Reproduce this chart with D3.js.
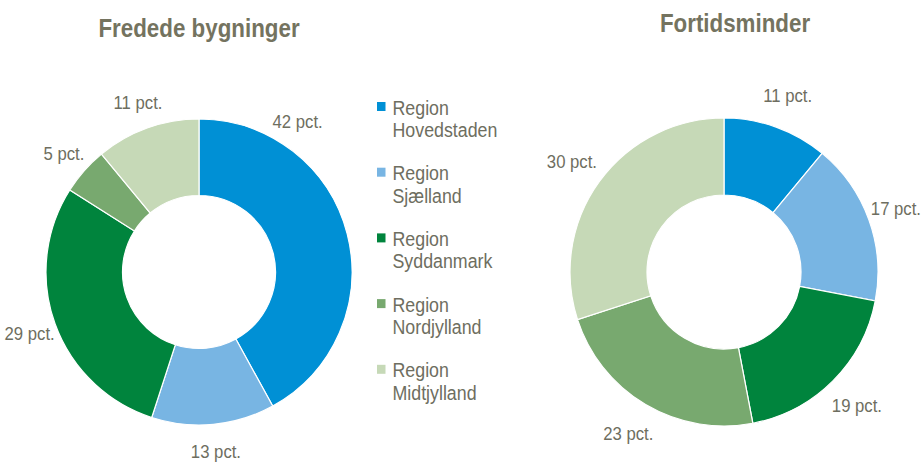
<!DOCTYPE html>
<html>
<head>
<meta charset="utf-8">
<script src="https://cdn.jsdelivr.net/npm/d3@7"></script>
<style>
  body { margin: 0; background: #fff; }
  text { font-family: "Liberation Sans Narrow", "Arial Narrow", "Liberation Sans", Arial, sans-serif; }
</style>
</head>
<body>
<script>
// regions (legend order = slice order)
var regions = ["Hovedstaden", "Sjælland", "Syddanmark", "Nordjylland", "Midtjylland"];
var colors = ["#0090d5", "#78b5e3", "#00843d", "#78a96f", "#c6d9b7"];

// pct. values
var fredede = [42, 13, 29, 5, 11];
var fortid = [11, 17, 19, 23, 30];

var titles = ["Fredede bygninger", "Fortidsminder"];

var width = 923, height = 462;
var textColor = "#6e6e60";
// no narrow font installed, so squeeze the regular one
var squeeze = 0.88;

var svg = d3.select("body")
  .append("svg")
  .attr("width", width)
  .attr("height", height);

var color = d3.scaleOrdinal().domain(regions).range(colors);

var pie = d3.pie().sort(null).value(function(d) { return d.value; });

function narrowText(sel, x, y, s) {
  return sel.append("text")
    .attr("transform", "translate(" + x + "," + y + ") scale(" + s + ",1)");
}

function drawDonut(values, title, cx, cy, outer, labelGap, titleX, titleY, maxLabelAngle) {
  var data = values.map(function(v, i) { return { region: regions[i], value: v }; });
  var arc = d3.arc().innerRadius(outer * 0.5).outerRadius(outer);

  var g = svg.append("g").attr("transform", "translate(" + cx + "," + cy + ")");

  g.selectAll("path")
    .data(pie(data))
    .enter()
    .append("path")
    .attr("d", arc)
    .attr("fill", function(d) { return color(d.data.region); })
    .attr("stroke", "#fff")
    .attr("stroke-width", 1.2);

  // labels outside, centred on mid angle (pushed up if they would hit the legend)
  var labelR = outer + labelGap;
  pie(data).forEach(function(d) {
    var a = (d.startAngle + d.endAngle) / 2;
    if (a > maxLabelAngle && a < Math.PI * 0.6) a = maxLabelAngle;
    var lx = Math.sin(a) * labelR, ly = -Math.cos(a) * labelR;
    var t = narrowText(g, lx, ly, squeeze)
      .attr("dy", "0.35em")
      .attr("text-anchor", "middle")
      .attr("fill", textColor)
      .style("font-size", "19px")
      .text(d.data.value + " pct.");
    // keep the label inside the picture
    var half = t.node().getComputedTextLength() * squeeze / 2;
    var maxX = width - 2 - half - cx;
    if (lx > maxX) {
      t.attr("transform", "translate(" + maxX + "," + ly + ") scale(" + squeeze + ",1)");
    }
  });

  narrowText(svg, titleX, titleY, 0.86)
    .attr("text-anchor", "middle")
    .attr("fill", "#74735f")
    .style("font-size", "26px")
    .style("font-weight", "bold")
    .text(title);
}

drawDonut(fredede, titles[0], 199, 272, 153, 27, 199, 37, 0.58);
drawDonut(fortid, titles[1], 724, 272, 154, 34, 735, 32, 10);

// legend
var legend = svg.selectAll(".legend")
  .data(regions)
  .enter()
  .append("g")
  .attr("class", "legend")
  .attr("transform", function(d, i) { return "translate(377," + (102 + i * 65.7) + ")"; });

legend.append("rect")
  .attr("width", 8.5)
  .attr("height", 9)
  .attr("fill", function(d) { return color(d); });

legend.each(function(d) {
  var g = d3.select(this);
  narrowText(g, 15.5, 12.5, 0.89)
    .attr("fill", textColor)
    .style("font-size", "20px")
    .text("Region");
  narrowText(g, 15.5, 35, 0.89)
    .attr("fill", textColor)
    .style("font-size", "20px")
    .text(d);
});
</script>
</body>
</html>
